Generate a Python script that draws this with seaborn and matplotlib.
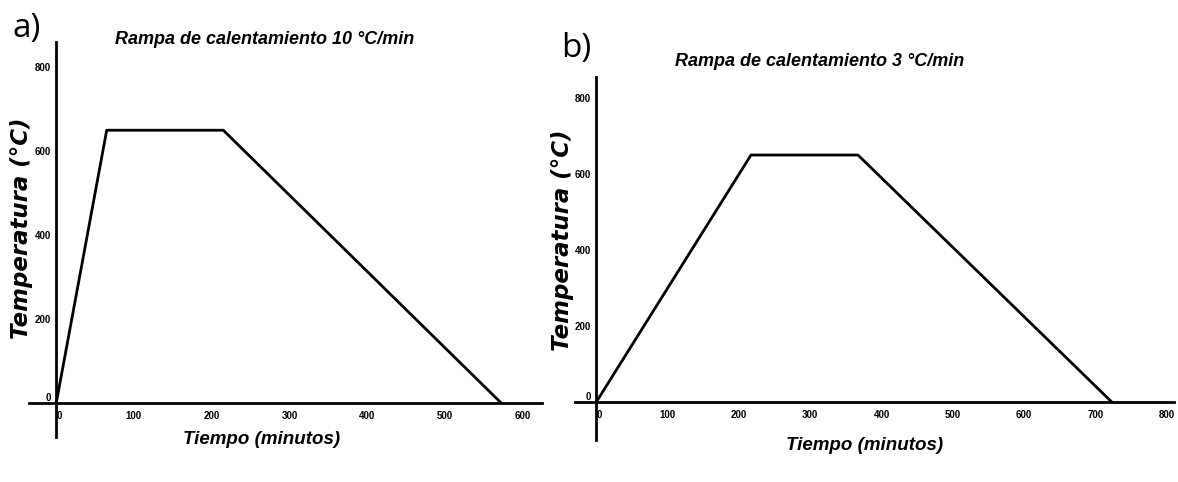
import matplotlib
matplotlib.use("Agg")
import matplotlib.pyplot as plt
import seaborn as sns
import pandas as pd

# Heating programmes: ramp to 650 °C, 150 min hold, cooling to room level
tiempo_a = [0, 65, 215, 573]
temp_a = [0, 650, 650, 0]
tiempo_b = [0, 217, 367, 723]
temp_b = [0, 650, 650, 0]

xticks_a = [0, 100, 200, 300, 400, 500, 600]
xticks_b = [0, 100, 200, 300, 400, 500, 600, 700, 800]
yticks = [0, 200, 400, 600, 800]

titulos = ["Rampa de calentamiento 10 °C/min", "Rampa de calentamiento 3 °C/min"]
paneles = ["a)", "b)"]
xlabel = "Tiempo (minutos)"
ylabel = "Temperatura (°C)"

sns.set_theme(style="white")
plt.rcParams["font.family"] = ["Liberation Sans", "DejaVu Sans"]
plt.rcParams["text.color"] = "black"
plt.rcParams["xtick.color"] = "black"
plt.rcParams["ytick.color"] = "black"

fig = plt.figure(figsize=(11.78, 4.82), dpi=100)
ax_a = fig.add_axes([0.0246, 0.0934, 0.4355, 0.8195])
ax_b = fig.add_axes([0.488, 0.087, 0.5085, 0.753])

configs = [
    (ax_a, tiempo_a, temp_a, xticks_a, (-35, 625), (-80, 860)),
    (ax_b, tiempo_b, temp_b, xticks_b, (-30, 810), (-100, 855)),
]

for ax, t, T, xt, xl, yl in configs:
    df = pd.DataFrame({"Tiempo": t, "Temperatura": T})
    sns.lineplot(data=df, x="Tiempo", y="Temperatura", ax=ax,
                 color="black", linewidth=2.0, sort=False)
    ax.set_xlim(*xl)
    ax.set_ylim(*yl)
    for s in ("top", "right"):
        ax.spines[s].set_visible(False)
    for s in ("left", "bottom"):
        ax.spines[s].set_position(("data", 0))
        ax.spines[s].set_color("black")
        ax.spines[s].set_linewidth(2.0)
    ax.set_xticks(xt)
    ax.set_yticks(yticks)
    ax.tick_params(axis="x", direction="inout", length=5, width=1.2,
                   labelsize=7, pad=3)
    ax.tick_params(axis="y", direction="out", length=3, width=1.2,
                   labelsize=7, pad=1)
    for lab in ax.get_xticklabels() + ax.get_yticklabels():
        lab.set_fontweight("bold")
    # origin labels sit beside the crossing of the axes
    ax.get_xticklabels()[0].set_horizontalalignment("left")
    ax.get_yticklabels()[0].set_verticalalignment("bottom")
    ax.set_xlabel("")
    ax.set_ylabel("")
    ax.patch.set_alpha(0)

# Titles, axis labels and panel letters
fig.text(265 / 1178, 1 - 40 / 482, titulos[0], ha="center", va="center",
         fontsize=13, fontweight="bold", fontstyle="italic")
fig.text(820 / 1178, 1 - 62 / 482, titulos[1], ha="center", va="center",
         fontsize=13, fontweight="bold", fontstyle="italic")

fig.text(262 / 1178, 1 - 440 / 482, xlabel, ha="center", va="center",
         fontsize=13.5, fontweight="bold", fontstyle="italic")
fig.text(865 / 1178, 1 - 446 / 482, xlabel, ha="center", va="center",
         fontsize=13.5, fontweight="bold", fontstyle="italic")

fig.text(22 / 1178, 1 - 228 / 482, ylabel, ha="center", va="center",
         rotation=90, fontsize=16.5, fontweight="bold", fontstyle="italic",
         family="DejaVu Sans")
fig.text(562 / 1178, 1 - 240 / 482, ylabel, ha="center", va="center",
         rotation=90, fontsize=16.5, fontweight="bold", fontstyle="italic",
         family="DejaVu Sans")

fig.text(13 / 1178, 1 - 28 / 482, paneles[0], ha="left", va="center",
         fontsize=24, family="Open Sans")
fig.text(561 / 1178, 1 - 49 / 482, paneles[1], ha="left", va="center",
         fontsize=24, family="Open Sans")

fig.savefig("out.png", dpi=100, facecolor="white")
